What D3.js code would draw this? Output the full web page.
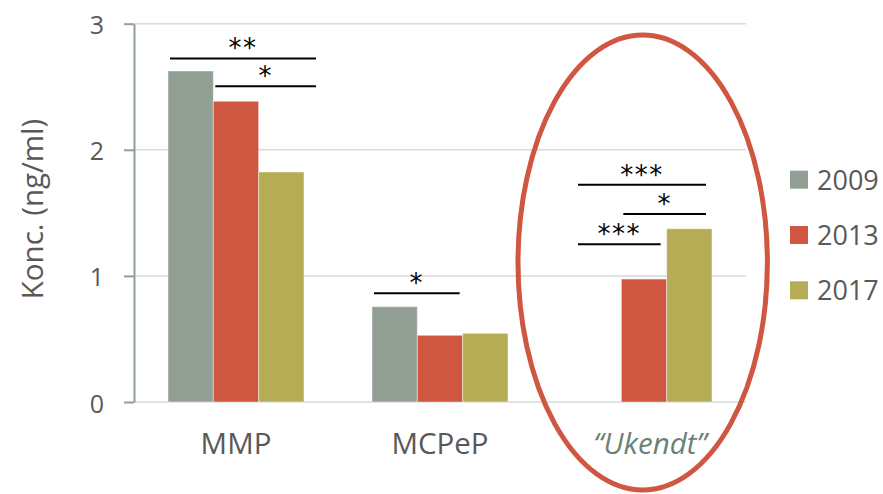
<!DOCTYPE html>
<html>
<head>
<meta charset="utf-8">
<script src="https://cdn.jsdelivr.net/npm/d3@7"></script>
<style>
  html, body { margin: 0; padding: 0; background: #ffffff; }
  svg { display: block; }
</style>
</head>
<body>
<svg id="chart" width="883" height="494"></svg>
<script>
// Concentrations (ng/ml) per compound and survey year
const categories = ["MMP", "MCPeP", "\u201CUkendt\u201D"];
const years = ["2009", "2013", "2017"];
const values2009 = [2.625, 0.756, null];
const values2013 = [2.385, 0.529, 0.975];
const values2017 = [1.824, 0.545, 1.374];
const yTicks = [0, 1, 2, 3];
const yTitle = "Konc. (ng/ml)";

// Significance brackets: compound, compared years, bracket level (ng/ml), stars
const bracketCategory = ["MMP", "MMP", "MCPeP", "\u201CUkendt\u201D", "\u201CUkendt\u201D", "\u201CUkendt\u201D"];
const bracketFrom     = ["2009", "2013", "2009", "2009", "2013", "2009"];
const bracketTo       = ["2017", "2017", "2013", "2017", "2017", "2013"];
const bracketLevel    = [2.725, 2.503, 0.862, 1.723, 1.491, 1.251];
const bracketStars    = ["**", "*", "*", "***", "*", "***"];

const colors = { "2009": "#929f95", "2013": "#cf5640", "2017": "#b5ad56" };
// how far each group's brackets run past the last compared bar (px)
const bracketOverhang = { "MMP": 12, "MCPeP": -3, "\u201CUkendt\u201D": -6 };

const seriesByYear = { "2009": values2009, "2013": values2013, "2017": values2017 };
const rows = [];
categories.forEach((c, i) => {
  years.forEach(yr => {
    const v = seriesByYear[yr][i];
    if (v != null) rows.push({ category: c, year: yr, value: v });
  });
});

const svg = d3.select("#chart");
const plot = { left: 134, right: 746, top: 23.7, bottom: 402 };

const x = d3.scaleBand().domain(categories).range([plot.left, plot.right])
  .paddingInner(1 / 3).paddingOuter(1 / 6);
const xYear = d3.scaleBand().domain(years).range([0, x.bandwidth()]);
const y = d3.scaleLinear().domain([0, 3]).range([plot.bottom, plot.top]);

const fontMain = "'Open Sans', 'Noto Sans', sans-serif";

// Horizontal gridlines
svg.append("g").selectAll("line").data(yTicks).join("line")
  .attr("x1", plot.left).attr("x2", plot.right)
  .attr("y1", d => y(d)).attr("y2", d => y(d))
  .attr("stroke", "#d9d9d9").attr("stroke-width", 1.5);

// Bars
svg.append("g").selectAll("rect").data(rows).join("rect")
  .attr("x", d => x(d.category) + xYear(d.year))
  .attr("y", d => y(d.value))
  .attr("width", xYear.bandwidth())
  .attr("height", d => y(0) - y(d.value))
  .attr("fill", d => colors[d.year])
  .attr("stroke", "rgba(255,255,255,0.45)")
  .attr("stroke-width", 1);

// Y axis
const yAxis = d3.axisLeft(y).tickValues(yTicks).tickSize(10).tickSizeOuter(0).tickPadding(20)
  .tickFormat(d3.format("d"));
const gy = svg.append("g").attr("transform", `translate(${plot.left},0)`).call(yAxis);
gy.select(".domain").attr("stroke", "#8fa096").attr("stroke-width", 2);
gy.selectAll(".tick line").attr("stroke", "#8fa096").attr("stroke-width", 2);
gy.selectAll(".tick text")
  .attr("font-family", fontMain).attr("font-size", 25).attr("fill", "#595959")
  .attr("dy", "0.40em");

// Y axis title
svg.append("text")
  .attr("transform", `translate(43,209) rotate(-90)`)
  .attr("text-anchor", "middle")
  .attr("font-family", fontMain).attr("font-size", 29.5).attr("fill", "#595959")
  .text(yTitle);

// Category labels
svg.append("g").selectAll("text").data(categories).join("text")
  .attr("x", (d, i) => x(d) + x.bandwidth() / 2 + (i === 2 ? 6 : 0))
  .attr("y", 454)
  .attr("text-anchor", "middle")
  .attr("font-family", fontMain).attr("font-size", 29.5)
  .attr("font-style", (d, i) => i === 2 ? "italic" : "normal")
  .attr("fill", (d, i) => i === 2 ? "#6a8274" : "#595959")
  .text(d => d);

// Significance brackets with stars
const brackets = bracketCategory.map((c, i) => ({
  category: c, from: bracketFrom[i], to: bracketTo[i], level: bracketLevel[i], stars: bracketStars[i]
}));
const bg = svg.append("g");
brackets.forEach(b => {
  const x1 = x(b.category) + xYear(b.from) + 2;
  const x2 = x(b.category) + xYear(b.to) + xYear.bandwidth() + bracketOverhang[b.category];
  const yy = y(b.level);
  bg.append("line").attr("x1", x1).attr("x2", x2).attr("y1", yy).attr("y2", yy)
    .attr("stroke", "#000").attr("stroke-width", 2);
  bg.append("text").attr("x", (x1 + x2) / 2).attr("y", yy - 1)
    .attr("text-anchor", "middle")
    .attr("font-family", "'DejaVu Sans', sans-serif").attr("font-size", 26)
    .attr("letter-spacing", 1.5)
    .attr("fill", "#000").text(b.stars);
});

// Highlight ring around the unidentified compound
svg.append("ellipse")
  .attr("cx", x(categories[2]) + x.bandwidth() / 2 - 1.3)
  .attr("cy", 262.5).attr("rx", 124.7).attr("ry", 227.5)
  .attr("fill", "none").attr("stroke", "#cf5640").attr("stroke-width", 5);

// Legend
const legend = svg.append("g").attr("transform", "translate(790,170.7)");
const li = legend.selectAll("g").data(years).join("g")
  .attr("transform", (d, i) => `translate(0,${i * 55.3})`);
li.append("rect").attr("width", 18).attr("height", 18).attr("fill", d => colors[d]);
li.append("text").attr("x", 27).attr("y", 19)
  .attr("font-family", fontMain).attr("font-size", 27).attr("fill", "#595959")
  .text(d => d);
</script>
</body>
</html>
